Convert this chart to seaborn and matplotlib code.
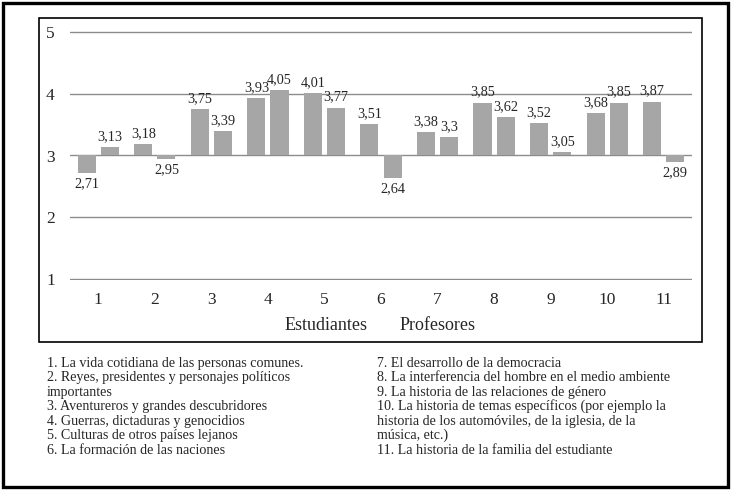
import pandas as pd
import matplotlib.pyplot as plt
import seaborn as sns
from matplotlib.patches import Rectangle

temas = [str(i) for i in range(1, 12)]
estudiantes = [2.71, 3.18, 3.75, 3.93, 4.01, 3.51, 3.38, 3.85, 3.52, 3.68, 3.87]
profesores = [3.13, 2.95, 3.39, 4.05, 3.77, 2.64, 3.30, 3.62, 3.05, 3.85, 2.89]
grupos = ['Estudiantes', 'Profesores']
base = 3

notas_izq = [
    "1. La vida cotidiana de las personas comunes.",
    "2. Reyes, presidentes y personajes políticos",
    "importantes",
    "3. Aventureros y grandes descubridores",
    "4. Guerras, dictaduras y genocidios",
    "5. Culturas de otros países lejanos",
    "6. La formación de las naciones",
]
notas_der = [
    "7. El desarrollo de la democracia",
    "8. La interferencia del hombre en el medio ambiente",
    "9. La historia de las relaciones de género",
    "10. La historia de temas específicos (por ejemplo la",
    "historia de los automóviles, de la iglesia, de la",
    "música, etc.)",
    "11. La historia de la familia del estudiante",
]

df = pd.DataFrame({
    'tema': temas * 2,
    'grupo': [grupos[0]] * len(temas) + [grupos[1]] * len(temas),
    'valor': estudiantes + profesores,
})
df['dif'] = df['valor'] - base

sns.set_style('white')
plt.rcParams['font.family'] = ['Liberation Serif', 'DejaVu Serif']

W, H = 733, 490
fig = plt.figure(figsize=(W / 100, H / 100), dpi=100)

def fx(px):
    return px / W

def fy(py):
    return 1 - py / H

# outer frame and chart frame
fig.add_artist(Rectangle((fx(3), fy(487)), fx(725), 484 / H, transform=fig.transFigure,
                         fill=False, lw=2.4, ec='black'))
fig.add_artist(Rectangle((fx(39), fy(342)), fx(663), 324 / H, transform=fig.transFigure,
                         fill=False, lw=1.2, ec='black'))

ax = fig.add_axes([fx(70), fy(280), fx(622), 249 / H])
sns.barplot(data=df, x='tema', y='dif', hue='grupo', palette=['#a6a6a6', '#a6a6a6'],
            bottom=base, width=0.82, gap=0.22, errorbar=None, legend=False,
            edgecolor='none', ax=ax)

for cont, vals in zip(ax.containers, [estudiantes, profesores]):
    labs = [f"{v:g}".replace('.', ',') for v in vals]
    ax.bar_label(cont, labels=labs, padding=3, fontsize=10.3)

ax.set_ylim(0.99, 5.01)
ax.set_yticks([1, 2, 3, 4, 5])
ax.yaxis.grid(True, color='#8c8c8c', lw=1.0)
ax.set_axisbelow(True)
sns.despine(ax=ax, left=True, bottom=True)
ax.tick_params(axis='y', length=0, pad=11, labelsize=12.5)
ax.tick_params(axis='x', length=0, pad=9, labelsize=12.5)
ax.set_xlabel('')
ax.set_ylabel('')

fig.text(fx(285), fy(326), grupos[0], fontsize=13, va='center', ha='left')
fig.text(fx(400), fy(326), grupos[1], fontsize=13, va='center', ha='left')

for i, t in enumerate(notas_izq):
    fig.text(fx(47), fy(363 + i * 14.5), t, fontsize=10.1, va='center', ha='left')
for i, t in enumerate(notas_der):
    fig.text(fx(377), fy(363 + i * 14.5), t, fontsize=10.1, va='center', ha='left')

fig.savefig('out.png', dpi=100)
